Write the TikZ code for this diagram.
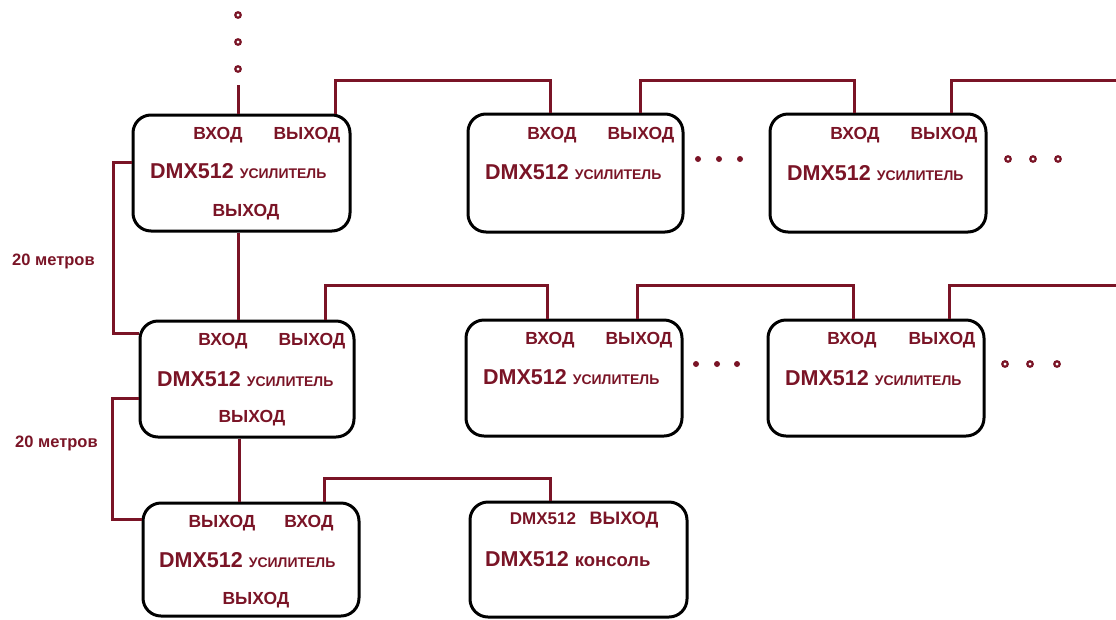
\documentclass[tikz,border=0pt]{standalone}
\usepackage{fontspec}
\setmainfont{Liberation Sans}
\usetikzlibrary{calc}
\definecolor{dm}{RGB}{122,20,38}
\begin{document}
\begin{tikzpicture}[x=1pt,y=-1pt,
  box/.style={draw=black,line width=3pt,rounded corners=18pt,inner sep=0pt},
  wire/.style={draw=dm,line width=3pt},
  lbl/.style={text=dm,font=\bfseries\fontsize{17.5}{20}\selectfont,inner sep=0pt,anchor=base},
  big/.style={text=dm,font=\bfseries\fontsize{21.5}{24}\selectfont,inner sep=0pt,anchor=base west},
  side/.style={text=dm,font=\bfseries\fontsize{16.5}{19}\selectfont,inner sep=0pt,anchor=base west},
  ringn/.style={circle,draw=dm,line width=2.2pt,fill=white,inner sep=0pt,minimum size=5.5pt},
  dotn/.style={circle,fill=dm,inner sep=0pt,minimum size=6pt}]
\newcommand\usil{{\fontsize{14}{16}\selectfont УСИЛИТЕЛЬ}}
\useasboundingbox (0,0) rectangle (1116,619);

% boxes
\node[box,minimum width=217pt,minimum height=116pt] (A) at (241.5,173) {};
\node[box,minimum width=215pt,minimum height=118pt] (B) at (575.5,173) {};
\node[box,minimum width=216pt,minimum height=118pt] (C) at (878,173) {};
\node[box,minimum width=214pt,minimum height=116pt] (D) at (247,379) {};
\node[box,minimum width=216pt,minimum height=116pt] (E) at (574,378) {};
\node[box,minimum width=216pt,minimum height=116pt] (F) at (876,378) {};
\node[box,minimum width=216pt,minimum height=113pt] (G) at (251,559.5) {};
\node[box,minimum width=217pt,minimum height=115pt] (H) at (578.5,559.5) {};

% labels A
\node[lbl] (Ain) at (218,139) {ВХОД};
\node[lbl] (Aout) at (307,139) {ВЫХОД};
\node[big] (At) at (150,178) {DMX512 \usil};
\node[lbl] (Abot) at (246,216) {ВЫХОД};
% labels B
\node[lbl] (Bin) at (552,139) {ВХОД};
\node[lbl] (Bout) at (641,139) {ВЫХОД};
\node[big] (Bt) at (485,179) {DMX512 \usil};
% labels C
\node[lbl] (Cin) at (855,139) {ВХОД};
\node[lbl] (Cout) at (944,139) {ВЫХОД};
\node[big] (Ct) at (787,180) {DMX512 \usil};
% labels D
\node[lbl] (Din) at (223,345) {ВХОД};
\node[lbl] (Dout) at (312,345) {ВЫХОД};
\node[big] (Dt) at (157,386) {DMX512 \usil};
\node[lbl] (Dbot) at (252,422) {ВЫХОД};
% labels E
\node[lbl] (Ein) at (550,344) {ВХОД};
\node[lbl] (Eout) at (639,344) {ВЫХОД};
\node[big] (Et) at (483,384) {DMX512 \usil};
% labels F
\node[lbl] (Fin) at (852,344) {ВХОД};
\node[lbl] (Fout) at (942,344) {ВЫХОД};
\node[big] (Ft) at (785,385) {DMX512 \usil};
% labels G
\node[lbl] (Gout) at (222,527) {ВЫХОД};
\node[lbl] (Gin) at (309,527) {ВХОД};
\node[big] (Gt) at (159,567) {DMX512 \usil};
\node[lbl] (Gbot) at (256,604) {ВЫХОД};
% labels H
\node[lbl,font=\bfseries\fontsize{17}{20}\selectfont] (Hdmx) at (543,524) {DMX512};
\node[lbl,font=\bfseries\fontsize{18}{20}\selectfont] (Hout) at (624,524) {ВЫХОД};
\node[big] (Ht) at (485,566) {DMX512 {\fontsize{18.5}{20}\selectfont консоль}};
% side labels
\node[side] (m1) at (12,265) {20 метров};
\node[side] (m2) at (15,447) {20 метров};

% coordinates
\coordinate (top0) at (238,85);
\coordinate (a1) at (335,80);
\coordinate (b0) at (550,80);
\coordinate (b1) at (640,80);
\coordinate (c0) at (854,80);
\coordinate (c1) at (951,80);
\coordinate (cEnd) at (1116,80);
\coordinate (ad) at (238,0);
\coordinate (al) at (113,162);
\coordinate (dl0) at (113,333);
\coordinate (d1) at (325,285);
\coordinate (e0) at (547,285);
\coordinate (e1) at (637,285);
\coordinate (f0) at (853,285);
\coordinate (f1) at (949,285);
\coordinate (fEnd) at (1116,285);
\coordinate (dg) at (239,0);
\coordinate (dl) at (112,398);
\coordinate (gl) at (112,519);
\coordinate (g1) at (324,478);
\coordinate (h0) at (550,478);

% wires
\draw[wire] (A.north -| top0) -- (top0);
\draw[wire] (A.north -| a1) |- (b0) -- (B.north -| b0);
\draw[wire] (B.north -| b1) |- (c0) -- (C.north -| c0);
\draw[wire] (C.north -| c1) |- (cEnd);
\draw[wire] (A.south -| ad) -- (D.north -| ad);
\draw[wire] (A.west |- al) -- (al) -- (dl0) -- (D.west |- dl0);
\draw[wire] (D.north -| d1) |- (e0) -- (E.north -| e0);
\draw[wire] (E.north -| e1) |- (f0) -- (F.north -| f0);
\draw[wire] (F.north -| f1) |- (fEnd);
\draw[wire] (D.south -| dg) -- (G.north -| dg);
\draw[wire] (D.west |- dl) -- (dl) -- (gl) -- (G.west |- gl);
\draw[wire] (G.north -| g1) |- (h0) -- (H.north -| h0);

% dots
\node[ringn] (t1) at (238,15) {};
\node[ringn] (t2) at (238,42) {};
\node[ringn] (t3) at (238,69) {};
\node[dotn] (p1) at (698,159) {};
\node[dotn] (p2) at (719,159) {};
\node[dotn] (p3) at (740,159) {};
\node[ringn] (q1) at (1008,159) {};
\node[ringn] (q2) at (1033,159) {};
\node[ringn] (q3) at (1058,159) {};
\node[dotn] (p4) at (696,364) {};
\node[dotn] (p5) at (717,364) {};
\node[dotn] (p6) at (737,364) {};
\node[ringn] (q4) at (1005,364) {};
\node[ringn] (q5) at (1030,364) {};
\node[ringn] (q6) at (1057,364) {};
\end{tikzpicture}
\end{document}
